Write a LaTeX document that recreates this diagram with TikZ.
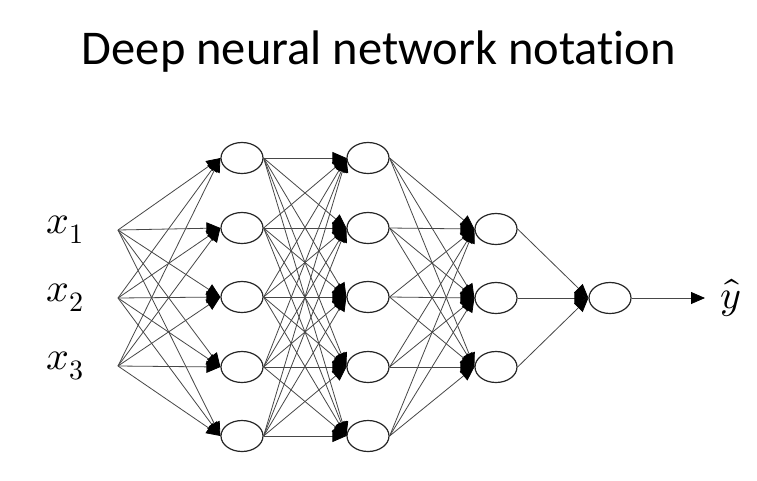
\documentclass[tikz,border=0pt]{standalone}
\usepackage{fontspec}
\usepackage{unicode-math}
\setmainfont{Carlito}[Ligatures={NoCommon}]
\setmathfont{Latin Modern Math}
\usetikzlibrary{shapes.geometric,arrows.meta}
\begin{document}
\begin{tikzpicture}[x=1pt,y=-1pt,
  neuron/.style={ellipse,draw=black!85,line width=1.2pt,minimum width=42pt,minimum height=31pt,inner sep=0pt,fill=white},
  conn/.style={draw=black!72,line width=0.8pt,-{Triangle[length=14pt,width=12pt,color=black]}},
  lbl/.style={font=\fontsize{40}{48}\selectfont,inner sep=0pt}
  ]
\useasboundingbox[fill=white] (0,0) rectangle (757,480);
\node[font=\fontsize{48.5}{58}\selectfont] (title) at (379,52) {Deep neural network notation};
% inputs
\foreach \i/\y in {1/230,2/298,3/366}{
  \node[lbl] (x\i) at (65,\y) {$x_\i$};
  \coordinate (in\i) at (118,\y);
}
% layers
\foreach \j/\y in {1/158,2/228,3/297,4/367,5/436}{
  \node[neuron] (a\j) at (242,\y) {};
  \node[neuron] (b\j) at (368,\y) {};
}
\foreach \j/\y in {1/229,2/298,3/367}{
  \node[neuron] (c\j) at (496,\y) {};
}
\node[neuron] (o) at (610,298) {};
\node[lbl,anchor=west] (yhat) at (720,298) {$\hat{y}$};
\coordinate (yend) at (705,298);
% connections
\foreach \i in {1,2,3}{\foreach \j in {1,...,5}{\draw[conn] (in\i) -- (a\j.west);}}
\foreach \i in {1,...,5}{\foreach \j in {1,...,5}{\draw[conn] (a\i.east) -- (b\j.west);}}
\foreach \i in {1,...,5}{\foreach \j in {1,2,3}{\draw[conn] (b\i.east) -- (c\j.west);}}
\foreach \i in {1,2,3}{\draw[conn] (c\i.east) -- (o.west);}
\draw[conn] (o.east) -- (yend);
\end{tikzpicture}
\end{document}
